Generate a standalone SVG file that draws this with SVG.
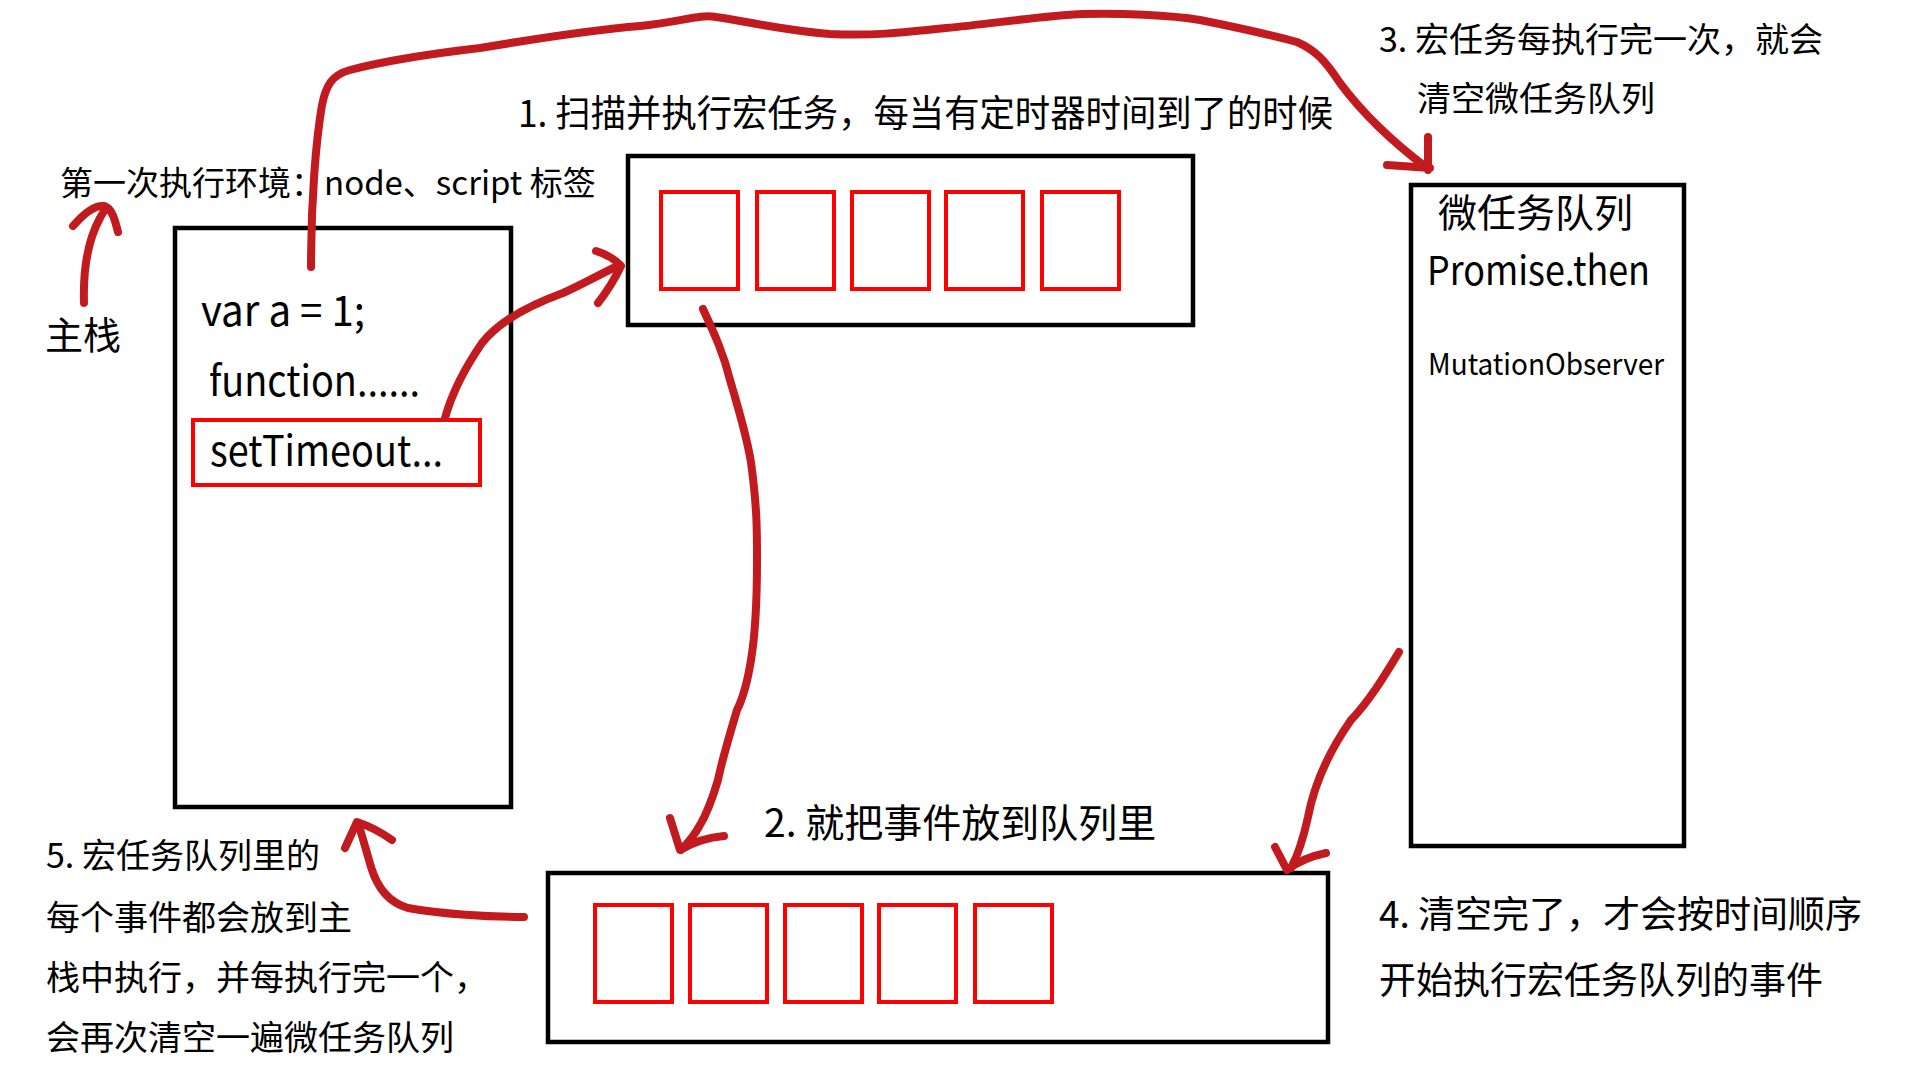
<svg xmlns="http://www.w3.org/2000/svg" width="1920" height="1080" viewBox="0 0 1920 1080">
  <style>
    .box { fill: none; stroke: #000; stroke-width: 4.5; }
    .slot { fill: none; stroke: #ff0000; stroke-width: 4; }
    .ink { fill: none; stroke: #c21b1f; stroke-width: 8; stroke-linecap: round; stroke-linejoin: round; }
    text { font-family: "Noto Sans CJK SC", "Liberation Sans", sans-serif; fill: #000; }
  </style>
  <rect width="1920" height="1080" fill="#fff"/>

  <!-- main call stack -->
  <g id="main-stack">
    <rect class="box" x="175" y="228" width="336" height="579"/>
    <text x="201" y="326" font-size="42" textLength="164" lengthAdjust="spacingAndGlyphs">var a = 1;</text>
    <text x="209" y="396" font-size="42" textLength="211" lengthAdjust="spacingAndGlyphs">function......</text>
    <rect class="slot" x="193" y="420" width="287" height="65"/>
    <text x="210" y="466" font-size="42" textLength="233" lengthAdjust="spacingAndGlyphs">setTimeout...</text>
  </g>

  <!-- macro task queue (timers) -->
  <g id="macro-queue">
    <rect class="box" x="628" y="156" width="565" height="169"/>
    <rect class="slot" x="661" y="192" width="77" height="97"/>
    <rect class="slot" x="757" y="192" width="77" height="97"/>
    <rect class="slot" x="852" y="192" width="77" height="97"/>
    <rect class="slot" x="946" y="192" width="77" height="97"/>
    <rect class="slot" x="1042" y="192" width="77" height="97"/>
  </g>

  <!-- event queue -->
  <g id="event-queue">
    <rect class="box" x="548" y="873" width="780" height="169"/>
    <rect class="slot" x="595" y="905" width="77" height="97"/>
    <rect class="slot" x="690" y="905" width="77" height="97"/>
    <rect class="slot" x="785" y="905" width="77" height="97"/>
    <rect class="slot" x="879" y="905" width="77" height="97"/>
    <rect class="slot" x="975" y="905" width="77" height="97"/>
  </g>

  <!-- micro task queue -->
  <g id="micro-queue">
    <rect class="box" x="1411" y="185" width="273" height="661"/>
    <text x="1438" y="227" font-size="39">微任务队列</text>
    <text x="1427" y="285" font-size="40" textLength="223" lengthAdjust="spacingAndGlyphs">Promise.then</text>
    <text x="1428" y="375" font-size="30" textLength="236" lengthAdjust="spacingAndGlyphs">MutationObserver</text>
  </g>

  <!-- captions -->
  <g id="labels">
    <text x="60" y="195" font-size="33">第一次执行环境：node、script 标签</text>
    <text x="45" y="349" font-size="38">主栈</text>
    <text x="518" y="127" font-size="37" textLength="815" lengthAdjust="spacingAndGlyphs">1. 扫描并执行宏任务，每当有定时器时间到了的时候</text>
    <text x="764" y="837" font-size="39">2. 就把事件放到队列里</text>
    <text x="1379" y="52" font-size="34">3. 宏任务每执行完一次，就会</text>
    <text x="1417" y="111" font-size="34">清空微任务队列</text>
    <text x="1379" y="928" font-size="37">4. 清空完了，才会按时间顺序</text>
    <text x="1379" y="994" font-size="37">开始执行宏任务队列的事件</text>
    <text x="46" y="868" font-size="34">5. 宏任务队列里的</text>
    <text x="46" y="930" font-size="34">每个事件都会放到主</text>
    <text x="46" y="990" font-size="34">栈中执行，并每执行完一个，</text>
    <text x="46" y="1050" font-size="34">会再次清空一遍微任务队列</text>
  </g>

  <!-- hand-drawn connectors -->
  <g id="connectors">
    <!-- main stack label -> stack -->
    <path class="ink" d="M84,303 C83,270 88,240 100,218 C102,214 104,211 106,209"/>
    <path class="ink" d="M73,226 C85,212 96,205 104,206 C112,208 115,220 118,232"/>

    <!-- stack -> micro task queue (over the top) -->
    <path class="ink" d="M311,267 C311,200 316,140 322,105 C326,85 332,75 350,70 C380,62 420,55 480,48 C540,38 590,30 640,26 C680,22 700,14 716,17 C740,20 780,30 830,34 C870,36 900,33 946,28 C990,24 1040,16 1083,14 C1120,13 1170,15 1200,20 C1230,26 1260,32 1297,42 C1315,50 1325,60 1340,83 C1360,110 1390,140 1427,168"/>
    <path class="ink" d="M1428,137 L1428,170 M1387,165 L1430,168"/>

    <!-- setTimeout -> macro task queue -->
    <path class="ink" d="M445,418 C450,400 460,375 482,343 C500,320 530,305 563,293 C585,283 602,273 620,265"/>
    <path class="ink" d="M596,251 Q612,256 621,266 Q612,285 598,303"/>

    <!-- macro task queue -> event queue -->
    <path class="ink" d="M703,309 C715,335 724,355 730,380 C742,420 750,450 752,470 C757,510 757,530 757,560 C757,600 756,630 751,660 C747,685 742,700 737,710 C728,740 722,760 718,780 C712,800 706,815 700,825 C694,836 688,843 681,850"/>
    <path class="ink" d="M670,818 L680,850 Q700,838 724,836"/>

    <!-- micro task queue -> event queue -->
    <path class="ink" d="M1399,652 C1385,675 1370,700 1351,720 C1330,750 1315,780 1308,817 C1303,840 1298,855 1291,868"/>
    <path class="ink" d="M1275,847 L1287,870 Q1302,858 1326,853"/>

    <!-- event queue -> main stack -->
    <path class="ink" d="M524,917 C490,917 440,914 408,908 C390,903 378,890 371,867 C366,850 362,835 358,823"/>
    <path class="ink" d="M345,848 L357,822 Q375,828 392,840"/>
  </g>
</svg>
